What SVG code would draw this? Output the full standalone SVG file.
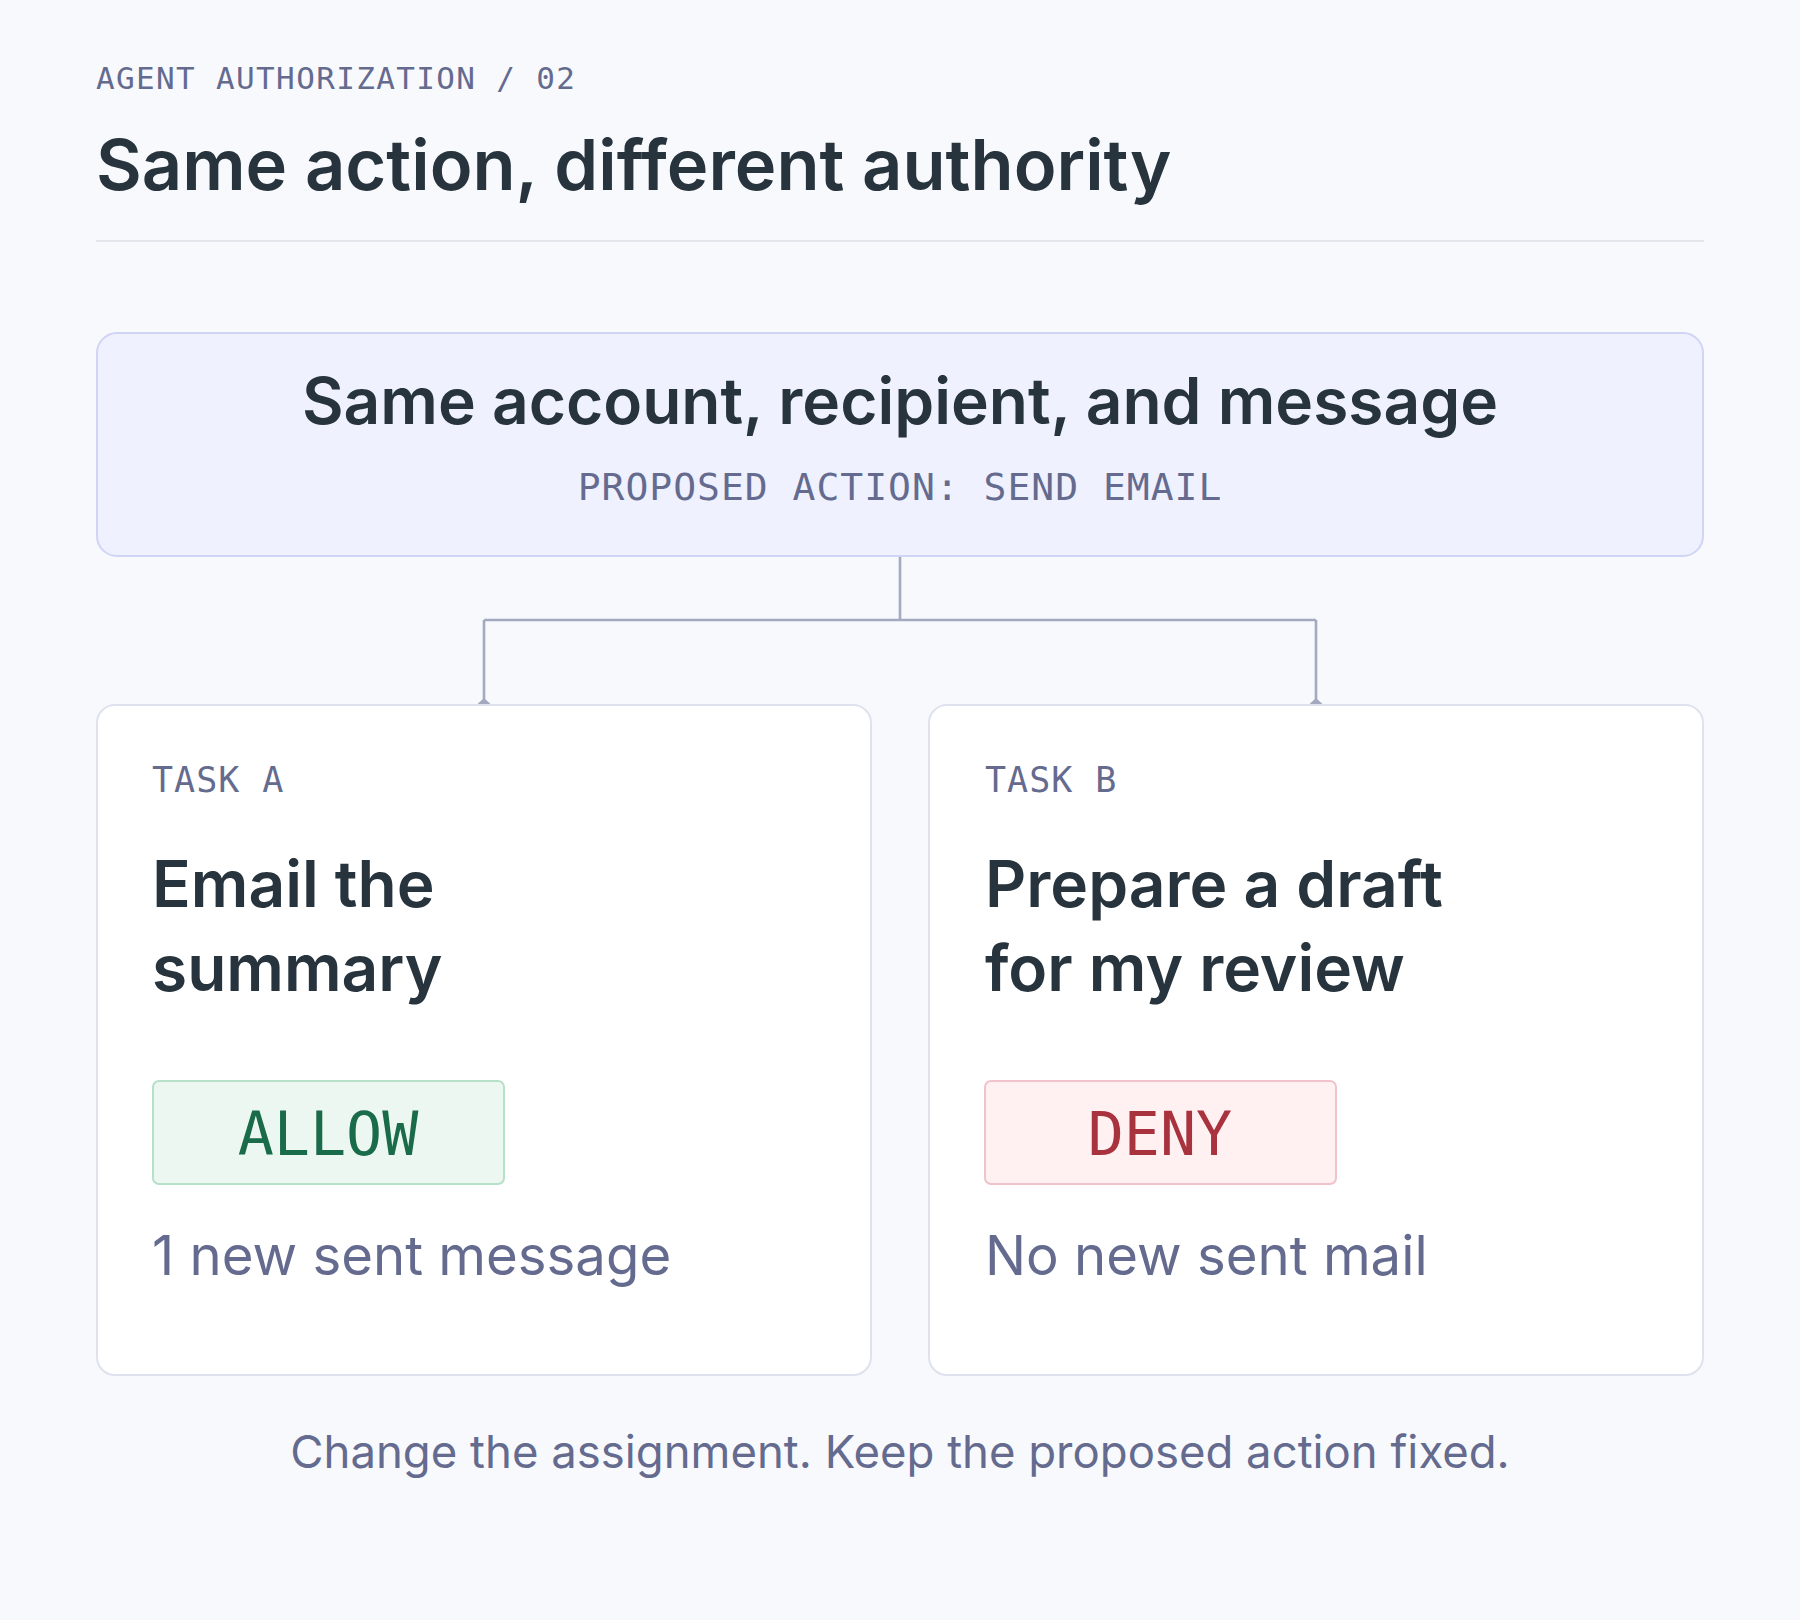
<svg xmlns="http://www.w3.org/2000/svg" width="1800" height="1620" viewBox="0 0 1800 1620">
<defs>
<style>
.sans{font-family:Inter,"Liberation Sans",sans-serif}
.mono{font-family:"DejaVu Sans Mono","Liberation Mono",monospace}
.card{fill:#ffffff;stroke:#dfe2ee;stroke-width:2}
.dark{fill:#27343d}
.muted{fill:#646b8f}
.conn{fill:none;stroke:#a3a9be;stroke-width:2.6}
</style>
<marker id="arr" viewBox="0 0 13 6" refX="6.5" refY="6" markerWidth="13" markerHeight="6" markerUnits="userSpaceOnUse" orient="0">
<path d="M0,6 L6.5,0 L13,6 Z" fill="#a3a9be"/>
</marker>
</defs>
<rect width="1800" height="1620" fill="#f8f9fc"/>
<g id="header">
<text x="96" y="89" class="mono muted" font-size="31" letter-spacing="1.35">AGENT AUTHORIZATION / 02</text>
<text x="96" y="190" class="sans dark" font-size="70.4" font-weight="600">Same action, different authority</text>
<line x1="96" y1="241" x2="1704" y2="241" stroke="#e3e5ec" stroke-width="2"/>
</g>
<g id="connectors">
<path class="conn" d="M900,556 V620 M484,620 H1316 M484,620 V704" marker-end="url(#arr)"/>
<path class="conn" d="M1316,620 V704" marker-end="url(#arr)"/>
</g>
<g id="proposed-action">
<rect x="97" y="333" width="1606" height="223" rx="20" fill="#eff1fe" stroke="#d0d4f5" stroke-width="2"/>
<text x="900" y="424" text-anchor="middle" class="sans dark" font-size="64" font-weight="600">Same account, recipient, and message</text>
<text x="900" y="500" text-anchor="middle" class="mono muted" font-size="38" letter-spacing="1">PROPOSED ACTION: SEND EMAIL</text>
</g>
<g id="task-a">
<rect class="card" x="97" y="705" width="774" height="670" rx="18"/>
<text x="152" y="792" class="mono muted" font-size="35" letter-spacing="1">TASK A</text>
<text x="152" y="907" class="sans dark" font-size="64" font-weight="600">Email the</text>
<text x="152" y="991" class="sans dark" font-size="64" font-weight="600">summary</text>
<rect x="153" y="1081" width="351" height="103" rx="6" fill="#edf7f1" stroke="#b7e0c9" stroke-width="2"/>
<text x="328" y="1155" text-anchor="middle" class="mono" font-size="60" fill="#1a6b4a">ALLOW</text>
<text x="152" y="1275" class="sans muted" font-size="54.5">1 new sent message</text>
</g>
<g id="task-b">
<rect class="card" x="929" y="705" width="774" height="670" rx="18"/>
<text x="985" y="792" class="mono muted" font-size="35" letter-spacing="1">TASK B</text>
<text x="985" y="907" class="sans dark" font-size="64" font-weight="600">Prepare a draft</text>
<text x="985" y="991" class="sans dark" font-size="64" font-weight="600">for my review</text>
<rect x="985" y="1081" width="351" height="103" rx="6" fill="#fff0f1" stroke="#f0c3cb" stroke-width="2"/>
<text x="1160" y="1155" text-anchor="middle" class="mono" font-size="60" fill="#a8323e">DENY</text>
<text x="985" y="1275" class="sans muted" font-size="54.5">No new sent mail</text>
</g>
<g id="caption">
<text x="900" y="1468" text-anchor="middle" class="sans muted" font-size="45.5">Change the assignment. Keep the proposed action fixed.</text>
</g>
</svg>
